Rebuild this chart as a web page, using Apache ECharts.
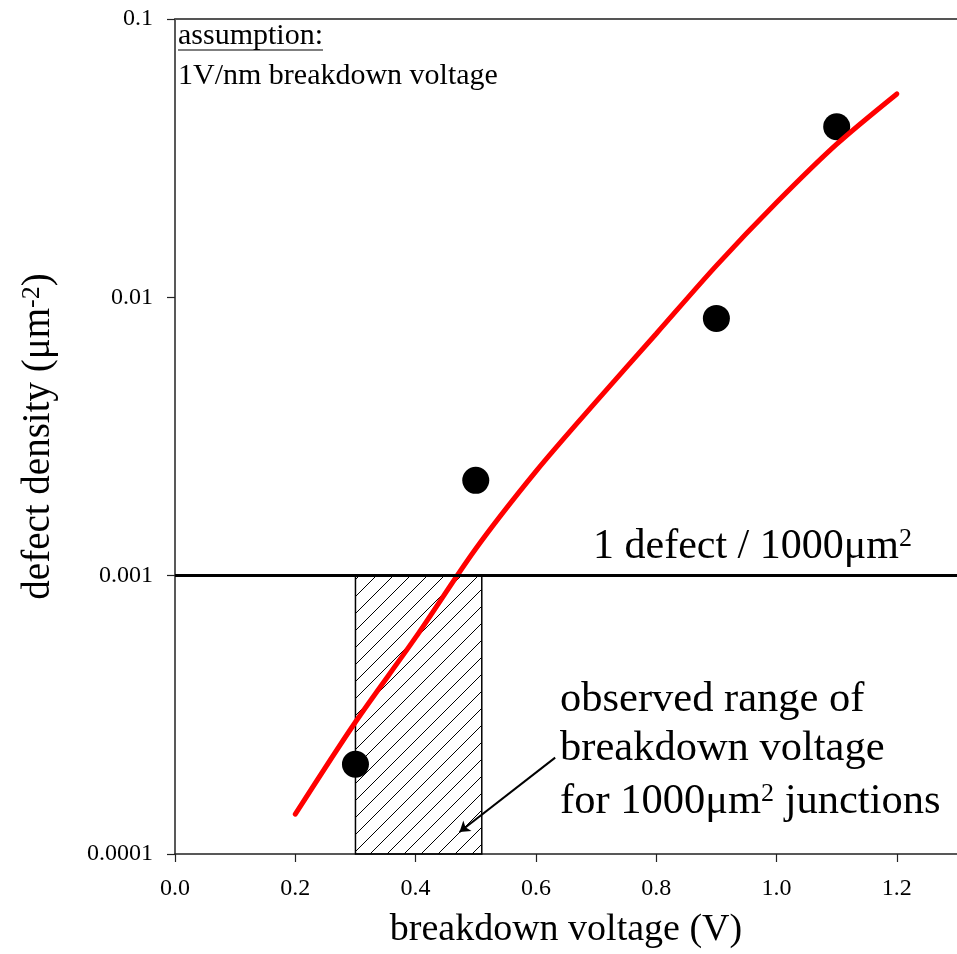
<!DOCTYPE html>
<html>
<head>
<meta charset="utf-8">
<script src="https://cdn.jsdelivr.net/npm/echarts@6/dist/echarts.min.js"></script>
<style>
  html, body { margin: 0; padding: 0; background: #fff; }
  #chart { width: 957px; height: 954px; }
</style>
</head>
<body>
<div id="chart"></div>
<script>
// x ticks shown (axis runs on to 1.3 without a label)
const xTicks = [0, 0.2, 0.4, 0.6, 0.8, 1.0, 1.2];
// measured points
const pointX = [0.3, 0.5, 0.9, 1.1];
const pointY = [2.1e-4, 2.2e-3, 8.4e-3, 0.041];
// red fit curve
const fitX = [0.2, 0.3, 0.4, 0.5, 0.6, 0.7, 0.8, 0.9, 1.0, 1.1, 1.2];
const fitY = [1.39e-4, 2.98e-4, 6.0e-4, 1.25e-3, 2.37e-3, 4.22e-3, 7.4e-3, 1.30e-2, 2.19e-2, 3.55e-2, 5.38e-2];
// 1 defect / 1000um2 level and the observed voltage range
const limitY = 0.001;
const rangeX = [0.3, 0.51];
const rangeY = [0.0001, 0.001];
// pointer from the label into the hatched box
const arrowFrom = [0.632, 2.22e-4];
const arrowTo = [0.473, 1.2e-4];

const serif = '"Liberation Serif", "Times New Roman", serif';
const axisColor = '#222';

// diagonal hatch tile
function hatchTile() {
  const s = 17;
  const c = document.createElement('canvas');
  c.width = s; c.height = s;
  const g = c.getContext('2d');
  g.strokeStyle = '#000';
  g.lineWidth = 1;
  g.beginPath();
  g.moveTo(-2, s + 2); g.lineTo(s + 2, -2);
  g.moveTo(-2, 2); g.lineTo(2, -2);
  g.moveTo(s - 2, s + 2); g.lineTo(s + 2, s - 2);
  g.stroke();
  return c;
}

function textWidth(str, font) {
  const g = document.createElement('canvas').getContext('2d');
  g.font = font;
  return g.measureText(str).width;
}

const supStyle = { fontSize: 26, fontFamily: serif, verticalAlign: 'top', lineHeight: 18, fill: '#000' };

let chart = echarts.init(document.getElementById('chart'));

let option = {
  animation: false,
  backgroundColor: '#fff',
  textStyle: { fontFamily: serif, color: '#000' },
  grid: { left: 175, right: 0, top: 19, bottom: 100, outerBoundsMode: 'none' },
  xAxis: [{
    type: 'value',
    min: 0,
    max: 1.3,
    interval: 0.2,
    name: 'breakdown voltage (V)',
    nameLocation: 'middle',
    nameGap: 57,
    nameMoveOverlap: false,
    nameTextStyle: { fontSize: 38, color: '#000', fontFamily: serif },
    axisLine: { onZero: false, lineStyle: { color: axisColor, width: 1.5 } },
    axisTick: { customValues: xTicks, length: 8, lineStyle: { color: axisColor, width: 1.2 } },
    axisLabel: {
      customValues: xTicks,
      fontSize: 24,
      margin: 23,
      color: '#000',
      fontFamily: serif,
      formatter: v => v.toFixed(1)
    },
    splitLine: { show: false }
  }, {
    type: 'value',
    position: 'top',
    min: 0,
    max: 1.3,
    axisLine: { show: true, onZero: false, lineStyle: { color: '#555', width: 2 } },
    axisTick: { show: false },
    axisLabel: { show: false },
    splitLine: { show: false }
  }],
  yAxis: {
    type: 'log',
    logBase: 10,
    min: 0.0001,
    max: 0.1,
    name: 'defect density (μm{sup|-2})',
    nameLocation: 'middle',
    nameRotate: 90,
    nameGap: 117,
    nameMoveOverlap: false,
    nameTextStyle: {
      fontSize: 39,
      color: '#000',
      fontFamily: serif,
      rich: { sup: { fontSize: 26, fontFamily: serif, verticalAlign: 'top', lineHeight: 12, color: '#000' } }
    },
    axisLine: { show: true, onZero: false, lineStyle: { color: axisColor, width: 1.5 } },
    axisTick: { show: true, length: 8, lineStyle: { color: axisColor, width: 1.2 } },
    minorTick: { show: false },
    axisLabel: {
      fontSize: 24,
      margin: 22,
      color: '#000',
      fontFamily: serif,
      formatter: v => String(Number(v.toPrecision(6)))
    },
    splitLine: { show: false }
  },
  series: [{
    // hatched observed range
    type: 'line',
    data: [],
    z: 1,
    silent: true,
    markArea: {
      silent: true,
      itemStyle: {
        color: { image: hatchTile(), repeat: 'repeat' },
        borderColor: '#000',
        borderWidth: 1.5
      },
      data: [[{ coord: [rangeX[0], rangeY[0]] }, { coord: [rangeX[1], rangeY[1]] }]]
    }
  }, {
    type: 'scatter',
    z: 3,
    data: pointX.map((x, i) => [x, pointY[i]]),
    symbol: 'circle',
    symbolSize: 27,
    itemStyle: { color: '#000', opacity: 1 },
    silent: true,
    markLine: {
      silent: true,
      symbol: ['none', 'none'],
      label: { show: false },
      lineStyle: { color: '#000', width: 3, type: 'solid', opacity: 1 },
      data: [[{ coord: [0, limitY] }, { coord: [1.3, limitY] }]]
    }
  }, {
    type: 'line',
    z: 4,
    data: fitX.map((x, i) => [x, fitY[i]]),
    smooth: 0.3,
    showSymbol: false,
    lineStyle: { color: '#ff0000', width: 5, cap: 'round' },
    silent: true
  }, {
    type: 'line',
    data: [],
    z: 5,
    silent: true,
    markLine: {
      silent: true,
      symbol: ['none', 'arrow'],
      symbolSize: 10,
      label: { show: false },
      lineStyle: { color: '#000', width: 2, type: 'solid' },
      data: [[{ coord: arrowFrom }, { coord: arrowTo }]]
    }
  }],
  graphic: [{
    type: 'text',
    x: 178, y: 21,
    style: { text: 'assumption:', fontSize: 30, fontFamily: serif, fill: '#000', verticalAlign: 'top' }
  }, {
    type: 'line',
    shape: { x1: 178, y1: 50, x2: 178 + textWidth('assumption:', '30px "Liberation Serif"'), y2: 50 },
    style: { stroke: '#000', lineWidth: 1.2 }
  }, {
    type: 'text',
    x: 178, y: 61,
    style: { text: '1V/nm breakdown voltage', fontSize: 30, fontFamily: serif, fill: '#000', verticalAlign: 'top' }
  }, {
    type: 'text',
    x: 593, y: 526,
    style: {
      text: '1 defect / 1000μm{sup|2}',
      fontSize: 42, fontFamily: serif, fill: '#000', verticalAlign: 'top', lineHeight: 42,
      rich: { sup: supStyle }
    }
  }, {
    type: 'text',
    x: 560, y: 679,
    style: { text: 'observed range of', fontSize: 42.5, fontFamily: serif, fill: '#000', verticalAlign: 'top', lineHeight: 42.5 }
  }, {
    type: 'text',
    x: 560, y: 728,
    style: { text: 'breakdown voltage', fontSize: 42.5, fontFamily: serif, fill: '#000', verticalAlign: 'top', lineHeight: 42.5 }
  }, {
    type: 'text',
    x: 560, y: 781,
    style: {
      text: 'for 1000μm{sup|2} junctions',
      fontSize: 42.5, fontFamily: serif, fill: '#000', verticalAlign: 'top', lineHeight: 42.5,
      rich: { sup: supStyle }
    }
  }]
};

chart.setOption(option);
</script>
</body>
</html>
